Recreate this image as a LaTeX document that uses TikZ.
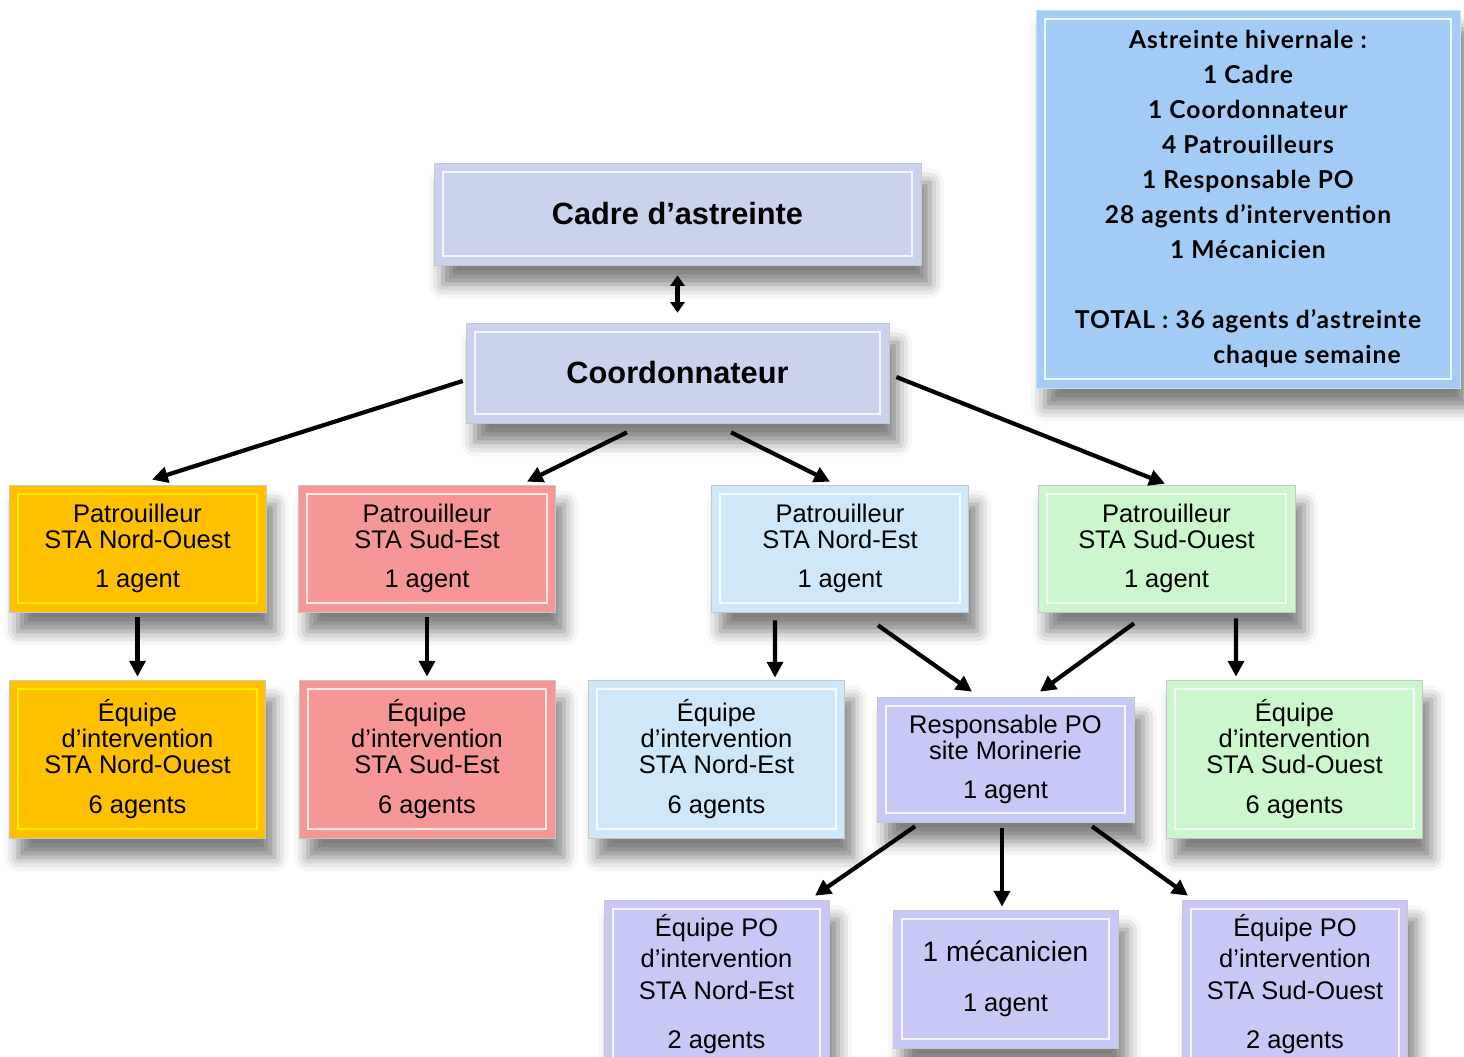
\documentclass[tikz,border=0pt]{standalone}
\usepackage{fontspec}
\setmainfont{Liberation Sans}
\newfontfamily\notefont[LetterSpace=4]{Lato}
\usetikzlibrary{arrows.meta,calc,shadows.blur}
\definecolor{cadreblue}{HTML}{CAD2EE}
\definecolor{noteblue}{HTML}{A2CCF6}
\definecolor{noorange}{HTML}{FFC000}
\definecolor{sesalmon}{HTML}{F69696}
\definecolor{neblue}{HTML}{CFE8F9}
\definecolor{sogreen}{HTML}{CCF6CC}
\definecolor{polilac}{HTML}{C8C8F6}

\begin{document}
\begin{tikzpicture}[
    x=0.02cm, y=-0.02cm,
    >={Triangle[length=9pt,width=9pt]},
    every node/.style={font=\fontsize{14.5}{14.7}\selectfont,align=center,inner sep=0pt},
    box/.style={draw=black!22,line width=0.4pt,fill=#1,
      blur shadow={shadow xshift=5pt,shadow yshift=-11pt,shadow blur radius=8pt,shadow opacity=50}},
    rim/.style={path picture={\draw[#1,line width=1.3pt,opacity=0.8]
      ([shift={(5pt,-5pt)}]path picture bounding box.north west) rectangle
      ([shift={(-5pt,5pt)}]path picture bounding box.south east);}},
    patrol/.style={minimum width=5.14cm,minimum height=2.54cm},
    team/.style={minimum width=5.12cm,minimum height=3.16cm},
    poteam/.style={minimum width=4.5cm,minimum height=3.36cm,font=\fontsize{14.5}{18}\selectfont},
    title/.style={font=\fontsize{17.5}{20}\selectfont\bfseries},
    link/.style={->,line width=2.4pt},
    twoway/.style={<->,line width=2.4pt,>={Triangle[length=6pt,width=8pt]}}
]
\useasboundingbox (0,0) rectangle (1464,1057);

% top of the chain
\node[box=cadreblue,rim=white,title,minimum width=9.74cm,minimum height=2.04cm] (cadre) at (677.5,214) {Cadre d’astreinte};
\node[box=cadreblue,rim=white,title,minimum width=8.46cm,minimum height=2cm] (coord) at (677.5,373) {Coordonnateur};

% weekly summary
\node[box=noteblue,draw=noteblue!60!white,rim=white,minimum width=8.48cm,minimum height=7.56cm,
  font=\notefont\bfseries\fontsize{14}{19.9}\selectfont] (note) at (1248,199)
  {Astreinte hivernale :\\1 Cadre\\1 Coordonnateur\\4 Patrouilleurs\\1 Responsable PO\\28 agents d’intervention\\1 Mécanicien\\[19.9pt]
   TOTAL : 36 agents d’astreinte\\\hspace*{2.36cm}chaque semaine};

% patrouilleurs
\node[box=noorange,rim=yellow,patrol] (pno) at (137.5,548.5) {Patrouilleur\\STA Nord-Ouest\\[8pt]1 agent};
\node[box=sesalmon,rim=white,patrol] (pse) at (427,548.5) {Patrouilleur\\STA Sud-Est\\[8pt]1 agent};
\node[box=neblue,rim=white,patrol] (pne) at (840,548.5) {Patrouilleur\\STA Nord-Est\\[8pt]1 agent};
\node[box=sogreen,rim=white,patrol] (pso) at (1166.5,548.5) {Patrouilleur\\STA Sud-Ouest\\[8pt]1 agent};

% equipes d'intervention
\node[box=noorange,rim=yellow,team] (eno) at (137.5,759) {Équipe\\d’intervention\\STA Nord-Ouest\\[8pt]6 agents};
\node[box=sesalmon,rim=white,team] (ese) at (427,759) {Équipe\\d’intervention\\STA Sud-Est\\[8pt]6 agents};
\node[box=neblue,rim=white,team] (ene) at (716.5,759) {Équipe\\d’intervention\\STA Nord-Est\\[8pt]6 agents};
\node[box=polilac,rim=white,minimum width=5.14cm,minimum height=2.5cm] (resp) at (1005.5,759.5) {Responsable PO\\site Morinerie\\[8pt]1 agent};
\node[box=sogreen,rim=white,team] (eso) at (1294.5,759) {Équipe\\d’intervention\\STA Sud-Ouest\\[8pt]6 agents};

% equipes PO and mechanic
\node[box=polilac,rim=white,poteam] (pone) at (716.5,984) {Équipe PO\\d’intervention\\STA Nord-Est\\[10pt]2 agents};
\node[box=polilac,rim=white,minimum width=4.5cm,minimum height=2.76cm] (meca) at (1005.5,979) {{\fontsize{16}{18}\selectfont 1 mécanicien}\\[14pt]1 agent};
\node[box=polilac,rim=white,poteam] (poso) at (1295,984) {Équipe PO\\d’intervention\\STA Sud-Ouest\\[10pt]2 agents};

% connectors
\draw[twoway] ($(cadre.south)+(0,10)$) -- ($(coord.north)+(0,-10)$);
\draw[link] ($(coord.west)+(-3,8)$) -- ($(pno.north)+(14.5,-5)$);
\draw[link] ($(coord.south)+(-50.5,9)$) -- ($(pse.north)+(100,-3)$);
\draw[link] ($(coord.south)+(53.5,9)$) -- ($(pne.north)+(-10,-3)$);
\draw[link] ($(coord.east)+(7,4)$) -- ($(pso.north)+(-1.5,-1)$);
\draw[link] ($(pno.south)+(0,5)$) -- ($(eno.north)+(0,-3)$);
\draw[link] ($(pse.south)+(0,5)$) -- ($(ese.north)+(0,-3)$);
\draw[link] ($(pne.south)+(-65,8)$) -- ($(ene.north)+(58.5,-2)$);
\draw[link] ($(pne.south)+(38,13)$) -- ($(resp.north)+(-33.5,-5)$);
\draw[link] ($(pso.south)+(-32.5,11)$) -- ($(resp.north)+(34.5,-5)$);
\draw[link] ($(pso.south)+(69.5,6)$) -- ($(eso.north)+(-58.5,-3)$);
\draw[link] ($(resp.south)+(-90.5,4)$) -- ($(pone.north)+(98.5,-4)$);
\draw[link] ($(resp.south)+(-3.5,6)$) -- ($(meca.north)+(-3.5,-3)$);
\draw[link] ($(resp.south)+(86.5,4)$) -- ($(poso.north)+(-107,-4)$);
\end{tikzpicture}
\end{document}
